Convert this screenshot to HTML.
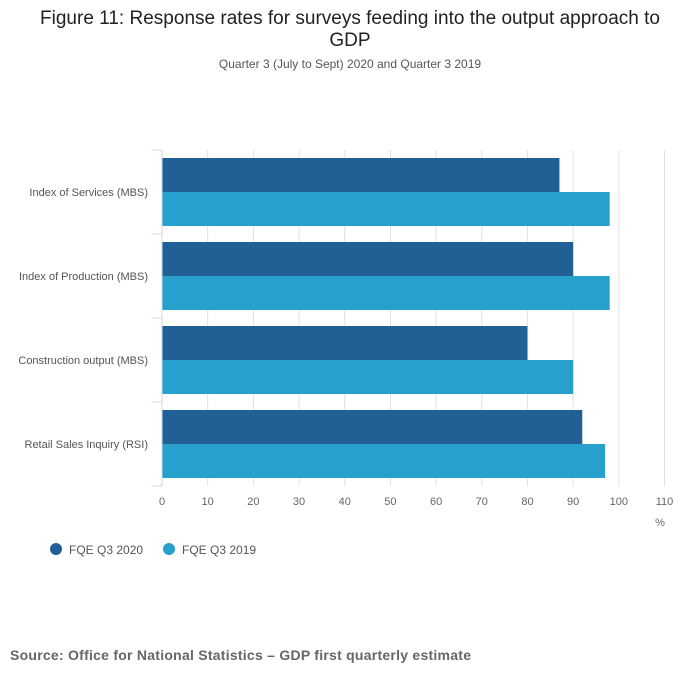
<!DOCTYPE html>
<html><head><meta charset="utf-8"><style>
body{margin:0;background:#fff;font-family:"Liberation Sans",sans-serif;}
svg text{font-family:"Liberation Sans",sans-serif;}
</style></head><body>
<svg width="700" height="682">
<text x="350" y="24" text-anchor="middle" font-size="19" fill="#222" textLength="620">Figure 11: Response rates for surveys feeding into the output approach to</text>
<text x="350" y="46" text-anchor="middle" font-size="19" fill="#222">GDP</text>
<text x="350" y="68" text-anchor="middle" font-size="12" fill="#555">Quarter 3 (July to Sept) 2020 and Quarter 3 2019</text>
<g id="grid"></g><g id="bars"></g><g id="axes"></g>
<text x="660" y="526" text-anchor="middle" font-size="11" fill="#666">%</text>
<g>
<circle cx="56" cy="549" r="6" fill="#206095"/>
<text x="69" y="554" font-size="12" fill="#555">FQE Q3 2020</text>
<circle cx="169" cy="549" r="6" fill="#27a0cc"/>
<text x="182" y="554" font-size="12" fill="#555">FQE Q3 2019</text>
</g>
<text x="10" y="660" font-size="14" font-weight="bold" fill="#666" textLength="461">Source:  Office for National Statistics – GDP first quarterly estimate</text>
</svg>
<script>
const categories=["Index of Services (MBS)","Index of Production (MBS)","Construction output (MBS)","Retail Sales Inquiry (RSI)"];
const series2020=[87,90,80,92];
const series2019=[98,98,90,97];
const ticks=[0,10,20,30,40,50,60,70,80,90,100,110];
const NS="http://www.w3.org/2000/svg";
const x0=162,x1=664.5,top0=150,bandH=84;
const xs=v=>x0+(v/110)*(x1-x0);
function mk(t,a,p){const e=document.createElementNS(NS,t);for(const k in a)e.setAttribute(k,a[k]);document.getElementById(p).appendChild(e);return e;}
ticks.forEach(t=>{
 if(t>0){const g=mk('line',{x1:xs(t),x2:xs(t),y1:top0,y2:top0+bandH*categories.length,stroke:'#e0e0e0'},'grid');
 
 }
 const l=mk('text',{x:xs(t),y:505,'text-anchor':'middle','font-size':11,fill:'#666'},'axes');l.textContent=t;
 
 
});
const ax=mk('line',{x1:x0,x2:x0,y1:top0,y2:top0+bandH*categories.length,stroke:'#ccd6e6'},'axes');


categories.forEach((c,i)=>{
 const y=top0+i*bandH;
 [y,y+bandH].forEach(yy=>{const tk=mk('line',{x1:x0-10,x2:x0,y1:yy,y2:yy,stroke:'#ccd6e6'},'axes');
 
 });
 const lb=mk('text',{x:148,y:y+bandH/2+4,'text-anchor':'end','font-size':11,fill:'#555'},'axes');lb.textContent=c;
 
 
 const bh=(bandH-16)/2;
 const b1=mk('rect',{x:x0,y:y+8,width:xs(series2020[i])-x0,height:bh,fill:'#206095'},'bars');
 
 
 const b2=mk('rect',{x:x0,y:y+8+bh,width:xs(series2019[i])-x0,height:bh,fill:'#27a0cc'},'bars');
 
 
});
</script>
</body></html>
